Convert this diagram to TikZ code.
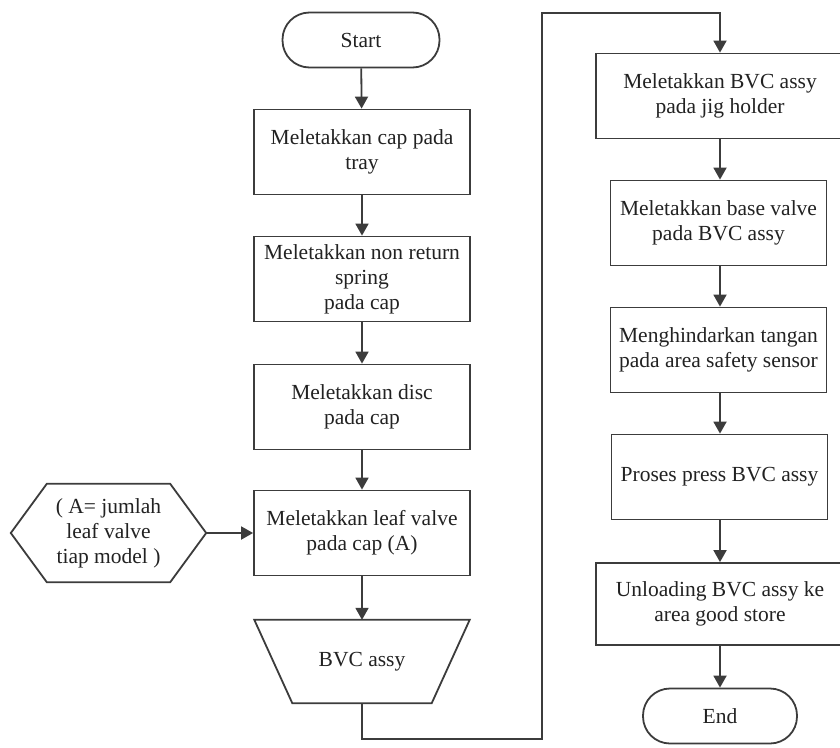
\documentclass[tikz,border=0pt]{standalone}
\usepackage{fontspec}
\setmainfont{Liberation Serif}
\usetikzlibrary{arrows.meta}
\definecolor{linegray}{HTML}{3C3C3C}
\definecolor{textgray}{HTML}{222222}
\begin{document}
\begin{tikzpicture}[x=1pt,y=-1pt,
  every node/.style={font=\fontsize{21.5}{25}\selectfont, text=textgray, align=center, inner sep=1pt},
  proc/.style={draw=linegray, line width=1.8pt, minimum width=216pt, minimum height=85pt},
  wideproc/.style={proc, minimum width=248pt},
  term/.style={draw=linegray, line width=1.8pt, rounded corners=27pt, minimum height=55pt},
  flow/.style={draw=linegray, line width=1.8pt, -{Triangle[width=13pt,length=12pt]}},
  conn/.style={draw=linegray, line width=1.8pt}]
  \fill[white] (0,0) rectangle (840,747);
  \useasboundingbox (0,0) rectangle (840,747);

  % left column
  \node[term, minimum width=157pt] (start) at (361,40) {Start};
  \node[proc] (cap) at (362,152) {Meletakkan cap pada\\tray};
  \node[proc] (spring) at (362,279) {Meletakkan non return\\spring\\pada cap};
  \node[proc] (disc) at (362,407) {Meletakkan disc\\pada cap};
  \node[proc] (leaf) at (362,533) {Meletakkan leaf valve\\pada cap (A)};
  \node[minimum width=215pt, minimum height=83pt] (bvc) at (362,661.5) {BVC assy};
  \draw[conn] (bvc.north west) -- (bvc.north east) -- ([xshift=-38pt]bvc.south east)
    -- ([xshift=38pt]bvc.south west) -- cycle;
  \node[minimum width=195pt, minimum height=98pt] (model) at (108.5,533)
    {( A= jumlah\\leaf valve\\tiap model )};
  \draw[conn] (model.west) -- ([xshift=36pt]model.north west) -- ([xshift=-36pt]model.north east)
    -- (model.east) -- ([xshift=-36pt]model.south east) -- ([xshift=36pt]model.south west) -- cycle;

  % right column
  \node[wideproc] (jig) at (720,96) {Meletakkan BVC assy\\pada jig holder};
  \node[proc] (base) at (718.5,223) {Meletakkan base valve\\pada BVC assy};
  \node[proc] (safety) at (718.5,350) {Menghindarkan tangan\\pada area safety sensor};
  \node[proc] (press) at (719.5,477) {Proses press BVC assy};
  \node[wideproc, minimum height=82pt] (unload) at (720,604) {Unloading BVC assy ke\\area good store};
  \node[term, minimum width=154pt] (end) at (720,716) {End};

  \coordinate (lowturn) at (542,739);
  \coordinate (upturn) at (542,13);

  \draw[flow] (start) -- (cap);
  \draw[flow] (cap) -- (spring);
  \draw[flow] (spring) -- (disc);
  \draw[flow] (disc) -- (leaf);
  \draw[flow] (model.east) -- (model.east -| leaf.west);
  \draw[flow] (leaf) -- (bvc);
  \draw[flow] (bvc.south) |- (lowturn) -- (upturn) -| (jig.north);
  \draw[flow] (jig) -- (jig |- base.north);
  \draw[flow] (jig |- base.south) -- (jig |- safety.north);
  \draw[flow] (jig |- safety.south) -- (jig |- press.north);
  \draw[flow] (jig |- press.south) -- (unload);
  \draw[flow] (unload) -- (end);
\end{tikzpicture}
\end{document}
